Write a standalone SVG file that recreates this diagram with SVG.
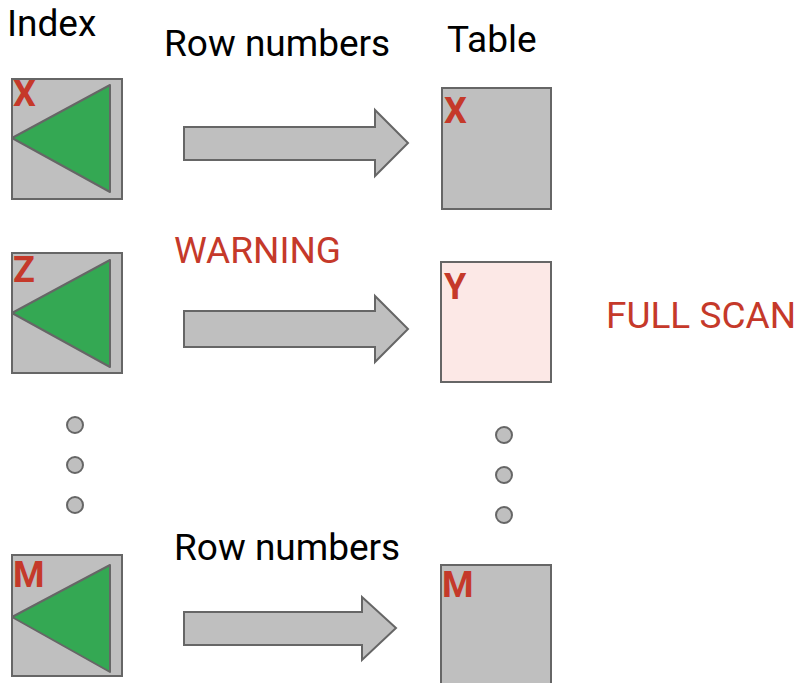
<svg xmlns="http://www.w3.org/2000/svg" width="800" height="683" viewBox="0 0 800 683">
  <style>
    .box { fill: #bfbfbf; stroke: #666666; stroke-width: 2; }
    .hot { fill: #fce8e6; stroke: #666666; stroke-width: 2; }
    .tri { fill: #34a853; stroke: #666666; stroke-width: 2; stroke-linejoin: round; }
    .arrow { fill: #bfbfbf; stroke: #666666; stroke-width: 2; stroke-linejoin: miter; }
    .dot { fill: #bfbfbf; stroke: #666666; stroke-width: 2; }
    .lbl { font-family: Roboto, "Liberation Sans", sans-serif; font-size: 37px; fill: #000000; }
    .warn { font-family: Roboto, "Liberation Sans", sans-serif; font-size: 37px; fill: #c5392a; }
    .key { font-family: Roboto, "Liberation Sans", sans-serif; font-size: 36px; font-weight: bold; fill: #c5392a; }
  </style>
  <rect width="800" height="683" fill="#ffffff"/>

  <text class="lbl" x="7" y="36">Index</text>
  <text class="lbl" x="447" y="52">Table</text>

  <!-- index nodes -->
  <g id="index-x">
    <rect class="box" x="12" y="79" width="110" height="120"/>
    <polygon class="tri" points="12,138 110,85 110,192"/>
    <text class="key" x="13" y="106">X</text>
  </g>
  <g id="index-z">
    <rect class="box" x="12" y="253" width="110" height="120"/>
    <polygon class="tri" points="12,313 110,260 110,367"/>
    <text class="key" x="13" y="282">Z</text>
  </g>
  <g id="index-m">
    <rect class="box" x="12" y="555" width="110" height="121"/>
    <polygon class="tri" points="12,617 110,565 110,672"/>
    <text class="key" x="13" y="587">M</text>
  </g>

  <!-- ellipsis dots -->
  <g id="index-dots">
    <circle class="dot" cx="75" cy="425" r="8"/>
    <circle class="dot" cx="75" cy="465" r="8"/>
    <circle class="dot" cx="75" cy="505" r="8"/>
  </g>
  <g id="table-dots">
    <circle class="dot" cx="504" cy="435" r="8"/>
    <circle class="dot" cx="504" cy="475" r="8"/>
    <circle class="dot" cx="504" cy="515" r="8"/>
  </g>

  <!-- table nodes -->
  <g id="table-x">
    <rect class="box" x="442" y="88" width="109" height="121"/>
    <text class="key" x="444" y="123">X</text>
  </g>
  <g id="table-y">
    <rect class="hot" x="441" y="262" width="110" height="120"/>
    <text class="key" x="444" y="299">Y</text>
  </g>
  <g id="table-m">
    <rect class="box" x="441" y="565" width="110" height="125"/>
    <text class="key" x="442" y="597">M</text>
  </g>

  <!-- block arrows -->
  <g id="connectors">
    <polygon class="arrow" points="184,127 375,127 375,110 408,143 375,176 375,160 184,160"/>
    <polygon class="arrow" points="184,311 375,311 375,296 408,329 375,362 375,347 184,347"/>
    <polygon class="arrow" points="184,612 362,612 362,597 396,628 362,660 362,645 184,645"/>
  </g>

  <text class="lbl" x="164" y="56">Row numbers</text>
  <text class="warn" x="174" y="263">WARNING</text>
  <text class="warn" x="606" y="328">FULL SCAN</text>
  <text class="lbl" x="174" y="560">Row numbers</text>
</svg>
